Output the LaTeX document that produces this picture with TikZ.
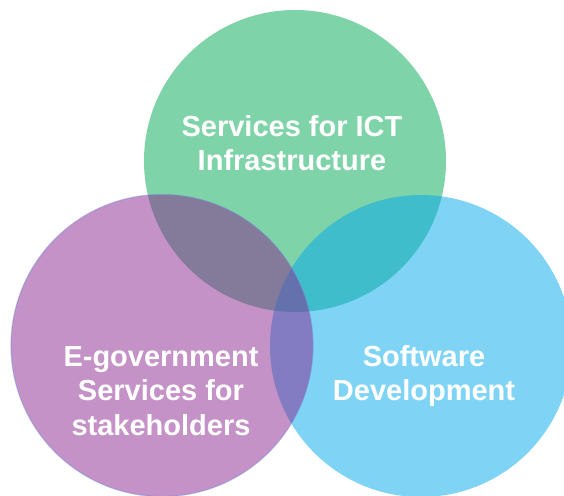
\documentclass[tikz,border=0pt]{standalone}
\usepackage{fontspec}
\setmainfont{Liberation Sans}
\usepackage{tikz}

\definecolor{ictgreen}{RGB}{0,167,81}
\definecolor{devcyan}{RGB}{0,169,237}
\definecolor{govpurple}{RGB}{139,37,143}
\definecolor{govrim}{RGB}{120,135,215}

\begin{document}
\begin{tikzpicture}[x=1pt,y=-1pt]
            \useasboundingbox (0,0) rectangle (564,495);

            \begin{scope}[every node/.style={circle,minimum size=302pt,inner sep=0pt,fill opacity=0.5}]
                \node (G) [fill=ictgreen] at (295,161) {};
                \node (C) [fill=devcyan] at (421,346) {};
                \node (P) [fill=govpurple,draw=govrim,draw opacity=0.45,line width=1.2pt] at (162,345.5) {};

            \end{scope}

            \begin{scope}[every node/.style={text=white,font=\bfseries\fontsize{29}{34.5}\selectfont,align=center}]
                \node (G') at (292,143) {Services for ICT\\Infrastructure};
                \node (P') at (161,391) {E-government\\Services for\\stakeholders};
                \node (C') at (424,376) {Software\\Development};

            \end{scope}
        \end{tikzpicture}
\end{document}
